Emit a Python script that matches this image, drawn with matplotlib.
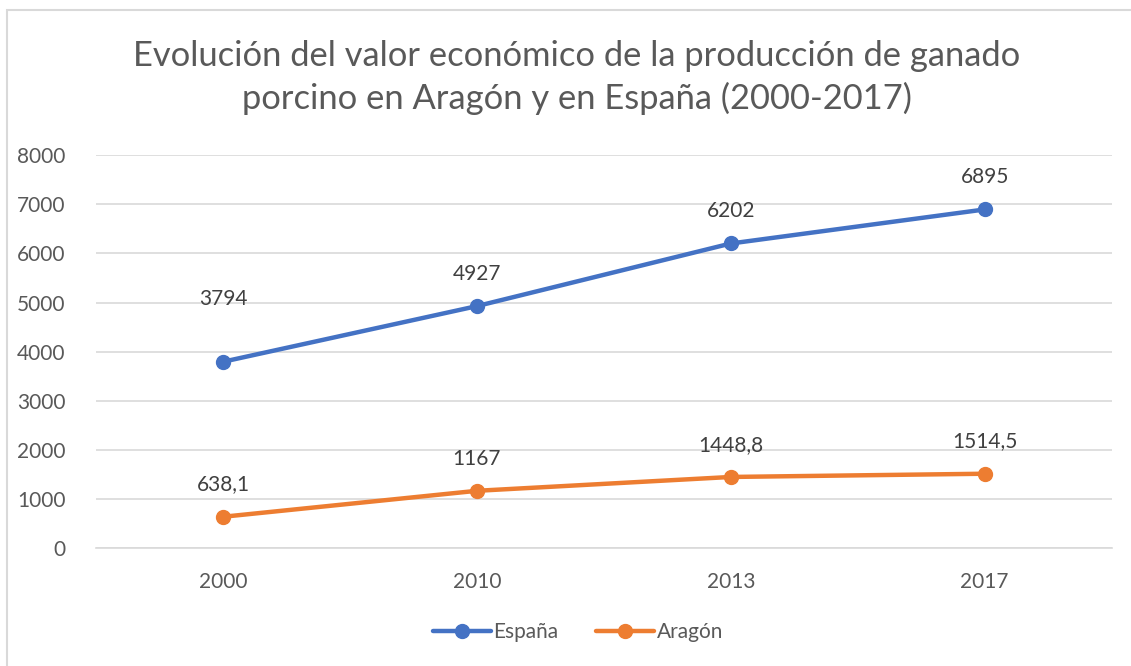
import matplotlib.pyplot as plt
from matplotlib.patches import Rectangle

# Datos
years = ['2000', '2010', '2013', '2017']
espana = [3794, 4927, 6202, 6895]
aragon = [638.1, 1167, 1448.8, 1514.5]
espana_labels = ['3794', '4927', '6202', '6895']
aragon_labels = ['638,1', '1167', '1448,8', '1514,5']

plt.rcParams['font.family'] = ['Lato', 'DejaVu Sans']
gray = '#595959'
fs = 15

fig = plt.figure(figsize=(11.31, 6.66), dpi=100)
ax = fig.add_axes([0.0849, 0.177, 0.898, 0.590])

# Borde del gráfico
fig.patches.append(Rectangle((7 / 1131, -0.01), 1.1, 1 - 10 / 666 + 0.01,
                             transform=fig.transFigure, fill=False,
                             edgecolor='#D9D9D9', linewidth=1.5))

x = range(len(years))
ax.plot(x, espana, color='#4472C4', linewidth=3.2, marker='o', markersize=10,
        label='España', solid_capstyle='round')
ax.plot(x, aragon, color='#ED7D31', linewidth=3.2, marker='o', markersize=10,
        label='Aragón', solid_capstyle='round')

# desplazamiento de las etiquetas (el primero de España está más alto)
esp_off = [38, 16, 16, 16]
for i in x:
    ax.annotate(espana_labels[i], (i, espana[i]), xytext=(0, esp_off[i]),
                textcoords='offset points', ha='center', va='bottom',
                fontsize=fs, color='#404040')
    ax.annotate(aragon_labels[i], (i, aragon[i]), xytext=(0, 16),
                textcoords='offset points', ha='center', va='bottom',
                fontsize=fs, color='#404040')

ax.set_xlim(-0.5, 3.5)
ax.set_ylim(0, 8000)
ax.set_yticks(range(0, 8001, 1000))
ax.set_xticks(list(x))
ax.set_xticklabels(years)
ax.yaxis.grid(True, color='#D9D9D9', linewidth=1.2)
ax.set_axisbelow(True)
for s in ['top', 'right', 'left']:
    ax.spines[s].set_visible(False)
ax.spines['bottom'].set_color('#D9D9D9')
ax.spines['bottom'].set_linewidth(1.2)
ax.tick_params(length=0, labelsize=fs, labelcolor=gray)
ax.tick_params(axis='x', pad=17)
ax.tick_params(axis='y', pad=22)

fig.text(0.51, 0.884, 'Evolución del valor económico de la producción de ganado\n'
         'porcino en Aragón y en España (2000-2017)', ha='center', va='center',
         fontsize=24.8, color=gray, linespacing=1.35)

fig.legend(loc='center', bbox_to_anchor=(0.511, 0.051), ncol=2, frameon=False,
           fontsize=fs, labelcolor=gray, handlelength=2.8, handletextpad=0.1,
           columnspacing=1.8)

fig.savefig('out.png', dpi=100)
